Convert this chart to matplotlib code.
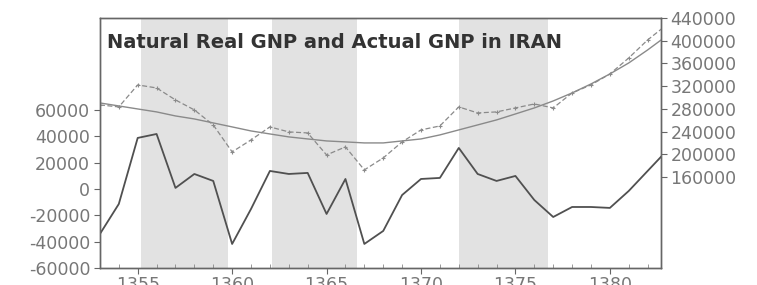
import matplotlib
matplotlib.use("Agg")
import matplotlib.pyplot as plt
from matplotlib.ticker import MultipleLocator

plt.rcParams["axes.unicode_minus"] = False

years = list(range(1353, 1384))

# output gap (left axis)
gap = [-34200, -11400, 38800, 41800, 800, 11400, 6100, -41800,
       -15200, 13700, 11400, 12200, -19000, 7600, -41800, -31900,
       -4600, 7600, 8400, 31200, 11400, 6100, 9900, -8400,
       -21300, -13700, -13700, -14400, -1500, 13700, 28900]

# actual GNP (right axis)
actual = [286900, 283400, 322100, 316800, 295700, 278100, 251700, 204200,
          225300, 248200, 239400, 237600, 198900, 213000, 172500, 193600,
          221800, 242900, 249900, 283400, 272800, 274600, 281600, 288600,
          281600, 308000, 322100, 341400, 369600, 401300, 427700]

# natural real GNP (right axis)
natural = [290400, 285100, 279800, 274600, 267500, 262200, 255200, 248200,
           241100, 235800, 230600, 227000, 223500, 221800, 220000, 220000,
           223500, 227000, 234100, 242900, 251700, 260500, 271000, 281600,
           293900, 308000, 323800, 341400, 360800, 383700, 408300]

band_start = [1355.2, 1362.1, 1372.0]
band_end = [1359.8, 1366.6, 1376.7]

fig = plt.figure(figsize=(7.57, 2.85), dpi=100)
ax = fig.add_axes([0.132, 0.06, 0.741, 0.877])
ax2 = ax.twinx()

for s, e in zip(band_start, band_end):
    ax.axvspan(s, e, color="#e2e2e2", lw=0, zorder=0)

ax.plot(years, gap, color="#505050", lw=1.3, zorder=3)
ax2.plot(years, natural, color="#8a8a8a", lw=1.0)
ax2.plot(years, actual, color="#8a8a8a", lw=0.9, ls=(0, (4, 2)),
         marker="+", ms=3, mew=0.8)

ax.set_xlim(1353, 1382.7)
ax.set_ylim(-60000, 130000)
ax2.set_ylim(0, 440000)

ax.set_yticks(range(-60000, 60001, 20000))
ax2.set_yticks(range(160000, 440001, 40000))
ax.set_xticks(range(1355, 1381, 5))
ax.xaxis.set_minor_locator(MultipleLocator(1))

gray = "#777777"
for a in (ax, ax2):
    for sp in a.spines.values():
        sp.set_color("#666666")
        sp.set_linewidth(1.0)
ax.tick_params(axis="y", direction="out", length=4, width=0.8, colors="#666666",
               labelcolor=gray, labelsize=12.5, pad=3)
ax2.tick_params(axis="y", direction="out", length=4, width=0.8, colors="#666666",
                labelcolor=gray, labelsize=12.5, pad=3)
ax.tick_params(axis="x", which="major", direction="out", length=4, width=0.8,
               colors="#666666", labelcolor=gray, labelsize=12.5, pad=2)
ax.tick_params(axis="x", which="minor", direction="in", length=3, width=0.6,
               colors="#888888")

ax.text(0.012, 0.9, "Natural Real GNP and Actual GNP in IRAN", transform=ax.transAxes,
        fontsize=14, fontweight="bold", color="#333333", va="center", ha="left",
        zorder=5)

fig.savefig("out.png", dpi=100)
